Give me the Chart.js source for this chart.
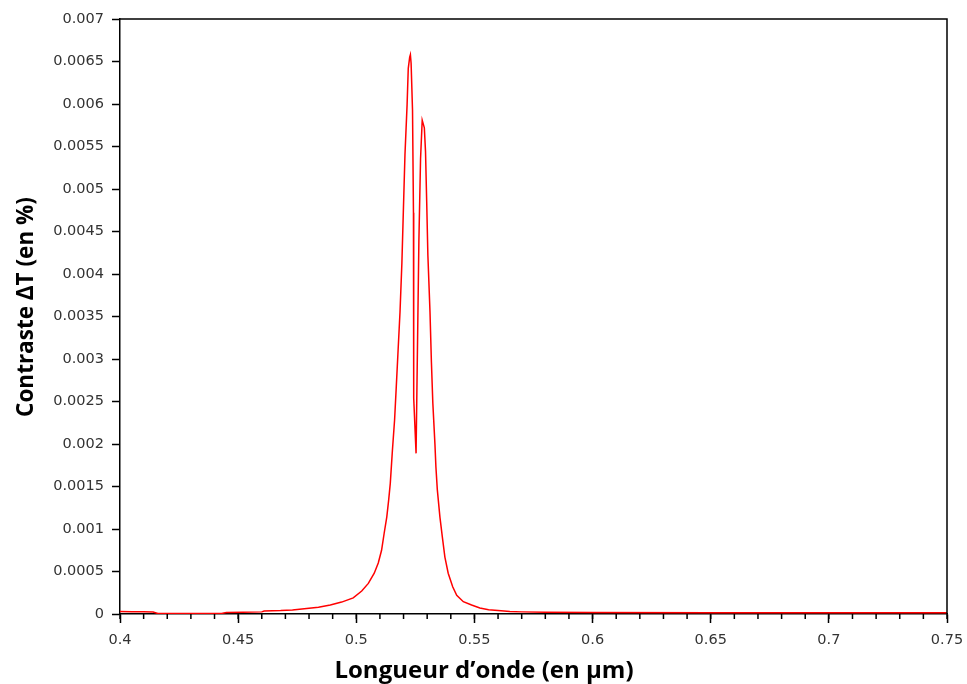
<!DOCTYPE html>
<html>
<head>
<meta charset="utf-8">
<script src="https://cdn.jsdelivr.net/npm/chart.js@4.4.0/dist/chart.umd.min.js"></script>
<style>
  html, body { margin: 0; padding: 0; background: #fff; }
  #wrap { width: 967px; height: 684px; }
</style>
</head>
<body>
<div id="wrap"><canvas id="chart" width="967" height="684"></canvas></div>
<script>
// wavelength in µm, contrast
const wavelength = [
  0.400, 0.405, 0.410, 0.414, 0.416, 0.425, 0.435, 0.443, 0.445, 0.452,
  0.460, 0.461, 0.468, 0.473, 0.479, 0.484, 0.489, 0.4938, 0.4987, 0.5023,
  0.5051, 0.5076, 0.5093, 0.5107, 0.5118, 0.5129, 0.5137, 0.5144, 0.5153, 0.5162,
  0.5169, 0.5176, 0.5185, 0.5193, 0.5199, 0.5206, 0.5215, 0.5220, 0.5226, 0.5229,
  0.5232, 0.5238, 0.5242, 0.5243, 0.5253, 0.5265, 0.5272, 0.5279, 0.5288, 0.5293,
  0.5298, 0.5303, 0.5312, 0.5318, 0.5324, 0.5333, 0.5337, 0.5343, 0.5354, 0.5364,
  0.5375, 0.5389, 0.5408, 0.5425, 0.5453, 0.5488, 0.5523, 0.556, 0.560, 0.565,
  0.570, 0.580, 0.600, 0.650, 0.700, 0.750
];
const contrast = [
  0.000028, 0.000027, 0.000026, 0.000024, 0.000006, 0.000005, 0.000005, 0.000006, 0.000018, 0.000020,
  0.000025, 0.000035, 0.000040, 0.000048, 0.000066, 0.000080, 0.000105, 0.000140, 0.00019, 0.00027,
  0.00036, 0.00048, 0.00060, 0.00075, 0.00095, 0.00114, 0.00134, 0.00154, 0.00193, 0.00228,
  0.00266, 0.00305, 0.00355, 0.00413, 0.00472, 0.00540, 0.00599, 0.00642, 0.00655, 0.00658,
  0.00648, 0.00593, 0.00472, 0.00254, 0.00189, 0.00440, 0.00536, 0.00581, 0.00572, 0.00544,
  0.00485, 0.00422, 0.00355, 0.00296, 0.00248, 0.00199, 0.00173, 0.00146, 0.00114, 0.00091,
  0.00067, 0.00048, 0.00032, 0.00022, 0.000145, 0.000106, 0.000070, 0.000050, 0.000040, 0.000030,
  0.000025, 0.000020, 0.000018, 0.000016, 0.000015, 0.000014
];

const xTickValues = [0.4, 0.45, 0.5, 0.55, 0.6, 0.65, 0.7, 0.75];
const yTickValues = [0, 0.0005, 0.001, 0.0015, 0.002, 0.0025, 0.003, 0.0035,
  0.004, 0.0045, 0.005, 0.0055, 0.006, 0.0065, 0.007];
const xMinorStep = 0.01;

const xTitle = 'Longueur d\u2019onde (en \u00b5m)';
const yTitle = 'Contraste \u0394T (en %)';

const fmt = v => String(Number(v.toFixed(6)));

// top/right frame, minor x ticks and the two axis titles
const frame = {
  id: 'frame',
  afterDraw(chart) {
    const { ctx, chartArea: a, scales } = chart;
    ctx.save();
    ctx.strokeStyle = '#000';
    ctx.lineWidth = 1.5;
    ctx.beginPath();
    ctx.moveTo(a.left, a.top);
    ctx.lineTo(a.right, a.top);
    ctx.lineTo(a.right, a.bottom);
    ctx.stroke();

    const x = scales.x;
    ctx.beginPath();
    for (let v = x.min; v <= x.max + 1e-9; v += xMinorStep) {
      const px = x.getPixelForValue(v);
      ctx.moveTo(px, a.bottom);
      ctx.lineTo(px, a.bottom + 5);
    }
    ctx.stroke();

    ctx.fillStyle = '#000';
    ctx.textAlign = 'center';
    ctx.textBaseline = 'alphabetic';
    ctx.font = 'bold 24px "Open Sans"';
    ctx.fillText(xTitle, 484, 678);

    ctx.font = 'bold 22.5px "Open Sans"';
    ctx.translate(33, 307);
    ctx.rotate(-Math.PI / 2);
    ctx.fillText(yTitle, 0, 0);
    ctx.restore();
  }
};

new Chart(document.getElementById('chart'), {
  type: 'line',
  data: {
    datasets: [{
      data: wavelength.map((w, i) => ({ x: w, y: contrast[i] })),
      borderColor: '#ff0000',
      borderWidth: 1.5,
      pointRadius: 0,
      tension: 0,
      fill: false
    }]
  },
  options: {
    responsive: false,
    animation: false,
    layout: { padding: { top: 19, right: 20, bottom: 0, left: 0 } },
    plugins: { legend: { display: false }, tooltip: { enabled: false } },
    scales: {
      x: {
        type: 'linear',
        min: 0.4,
        max: 0.75,
        afterBuildTicks: s => { s.ticks = xTickValues.map(v => ({ value: v })); },
        afterFit: s => { s.height = 70; s.paddingLeft = 0; s.paddingRight = 0; },
        border: { color: '#000', width: 1.5 },
        grid: { drawOnChartArea: false, tickLength: 9, tickColor: '#000', tickWidth: 1.5 },
        ticks: {
          callback: v => fmt(v),
          color: '#333',
          padding: 9,
          maxRotation: 0,
          autoSkip: false,
          font: { family: 'DejaVu Sans', size: 14.5 }
        }
      },
      y: {
        min: 0,
        max: 0.007,
        afterBuildTicks: s => { s.ticks = yTickValues.map(v => ({ value: v })); },
        afterFit: s => { s.width = 120; },
        border: { color: '#000', width: 1.5 },
        grid: { drawOnChartArea: false, tickLength: 8, tickColor: '#000', tickWidth: 1.5 },
        ticks: {
          callback: v => fmt(v),
          color: '#333',
          padding: 8,
          autoSkip: false,
          font: { family: 'DejaVu Sans', size: 14.5 }
        }
      }
    }
  },
  plugins: [frame]
});
</script>
</body>
</html>
